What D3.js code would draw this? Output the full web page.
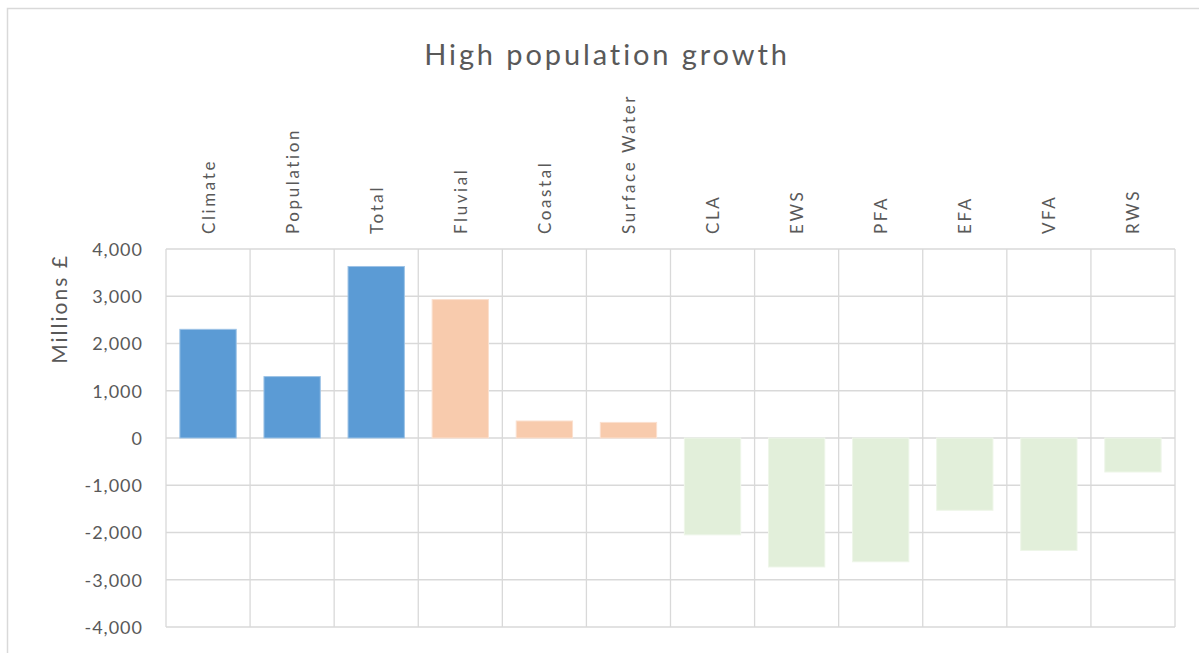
<!DOCTYPE html>
<html>
<head>
<meta charset="utf-8">
<script src="https://cdn.jsdelivr.net/npm/d3@7"></script>
<style>
  body { margin: 0; background: #fff; }
  text { font-family: Lato, "Open Sans", sans-serif; fill: #595959; }
</style>
</head>
<body>
<div id="chart"></div>
<script>
// categories and values (Millions £)
var categories = ["Climate", "Population", "Total", "Fluvial", "Coastal", "Surface Water",
                  "CLA", "EWS", "PFA", "EFA", "VFA", "RWS"];
var values = [2300, 1300, 3630, 2930, 360, 330, -2050, -2730, -2620, -1530, -2380, -720];
var groups = ["change", "change", "change", "flood", "flood", "flood",
              "sector", "sector", "sector", "sector", "sector", "sector"];
var yTicks = [-4000, -3000, -2000, -1000, 0, 1000, 2000, 3000, 4000];

var w = 1199, h = 653;
var margin = {left: 166, right: 24, top: 249, bottom: 26};

var fill = {change: "#5B9BD5", flood: "#F8CBAD", sector: "#E2EFDA"};
var edge = {change: "#9DC3E6", flood: "#FBE0CF", sector: "#EEF6E9"};

// plain hyphen for negatives, like the original
var fmt = d3.formatLocale({decimal: ".", thousands: ",", grouping: [3], currency: ["", ""], minus: "-"}).format(",");

var svg = d3.select("#chart").append("svg")
    .attr("width", w)
    .attr("height", h);

// outer chart frame (cut off by the picture at right and bottom)
svg.append("rect")
    .attr("x", 7.5).attr("y", 8.5)
    .attr("width", 1220).attr("height", 680)
    .attr("fill", "none")
    .attr("stroke", "#d9d9d9")
    .attr("stroke-width", 1.5);

var x = d3.scaleBand()
    .domain(categories)
    .range([margin.left, w - margin.right])
    .paddingInner(0.33)
    .paddingOuter(0.165);

var y = d3.scaleLinear()
    .domain([-4000, 4000])
    .range([h - margin.bottom, margin.top]);

// band boundaries for the vertical gridlines
var step = x.step();
var x0 = x(categories[0]) - step * 0.165;
var bounds = d3.range(categories.length + 1).map(i => x0 + i * step);

var grid = svg.append("g");
grid.selectAll("line.h")
    .data(yTicks)
    .enter().append("line")
    .attr("class", "h")
    .attr("x1", x0).attr("x2", bounds[bounds.length - 1])
    .attr("y1", d => y(d)).attr("y2", d => y(d))
    .attr("stroke", "#d9d9d9")
    .attr("stroke-width", 1.3);
grid.selectAll("line.v")
    .data(bounds)
    .enter().append("line")
    .attr("class", "v")
    .attr("x1", d => d).attr("x2", d => d)
    .attr("y1", y(4000)).attr("y2", y(-4000))
    .attr("stroke", "#d9d9d9")
    .attr("stroke-width", 1.3);

// bars
svg.append("g").selectAll("rect")
    .data(categories)
    .enter().append("rect")
    .attr("x", d => x(d))
    .attr("width", x.bandwidth())
    .attr("y", (d, i) => y(Math.max(0, values[i])))
    .attr("height", (d, i) => Math.abs(y(values[i]) - y(0)))
    .attr("fill", (d, i) => fill[groups[i]])
    .attr("stroke", (d, i) => edge[groups[i]])
    .attr("stroke-width", 1);

// y axis labels
var yAxis = d3.axisLeft(y)
    .tickValues(yTicks)
    .tickSize(0)
    .tickPadding(0)
    .tickFormat(fmt);
var ya = svg.append("g")
    .attr("transform", "translate(143,0)")
    .call(yAxis);
ya.select(".domain").remove();
ya.selectAll("text")
    .attr("font-size", 18)
    .attr("font-family", "Lato, sans-serif")
    .attr("fill", "#595959")
    .attr("letter-spacing", "1px")
    .attr("dy", "0.36em");

// category labels, rotated, on top of the plot
svg.append("g").selectAll("text")
    .data(categories)
    .enter().append("text")
    .attr("transform", d => "translate(" + (x(d) + x.bandwidth() / 2 + 6.5) + ",234) rotate(-90)")
    .attr("text-anchor", "start")
    .attr("font-size", 17)
    .attr("letter-spacing", "2.6px")
    .text(d => d);

// axis title
svg.append("text")
    .attr("transform", "translate(67,309) rotate(-90)")
    .attr("text-anchor", "middle")
    .attr("font-size", 21)
    .attr("letter-spacing", "2px")
    .text("Millions £");

// chart title
svg.append("text")
    .attr("x", 607)
    .attr("y", 65)
    .attr("text-anchor", "middle")
    .attr("font-size", 29)
    .attr("letter-spacing", "2.9px")
    .text("High population growth");
</script>
</body>
</html>
